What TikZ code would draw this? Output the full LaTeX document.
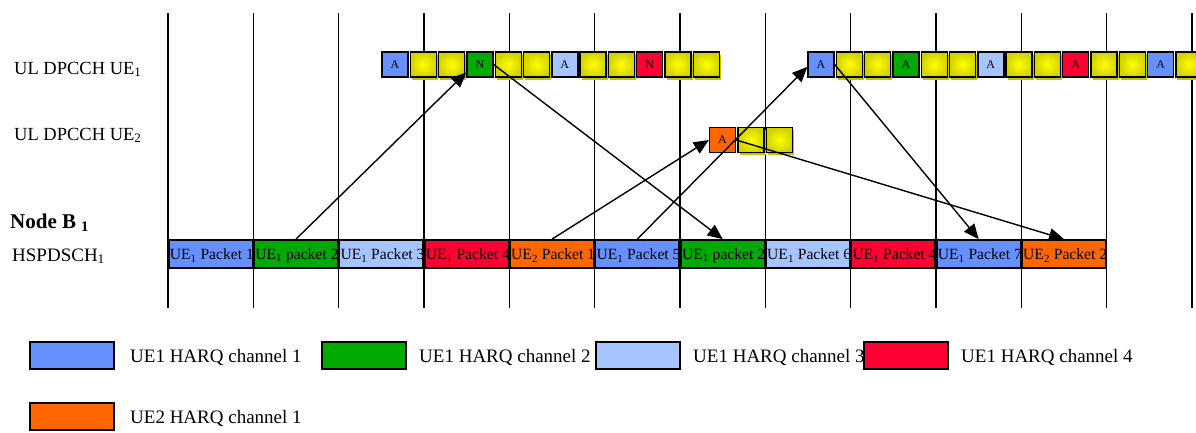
\documentclass[tikz,border=0pt]{standalone}
\usepackage{fontspec}
\setmainfont{Liberation Serif}
\usetikzlibrary{arrows.meta,shadows}
\definecolor{cblue}{HTML}{6690FF}
\definecolor{clblue}{HTML}{A6C4FF}
\definecolor{cgreen}{HTML}{00AA00}
\definecolor{cred}{HTML}{FF0033}
\definecolor{corange}{HTML}{FF6600}
\definecolor{cyel}{HTML}{FFFF00}
\definecolor{cyeledge}{HTML}{D2D200}
\definecolor{cyelshadow}{HTML}{C4C400}
\newcommand\pktfont{\fontsize{15.6}{16}\selectfont}
\newcommand\labfont{\fontsize{18.5}{20}\selectfont}
\newcommand\legfont{\fontsize{19}{21}\selectfont}
\tikzset{
  gridline/.style={line width=1.6pt, black},
  slotbox/.style={draw=black, line width=1.4pt, minimum width=26pt, minimum height=25pt,
    inner sep=0pt, font=\fontsize{12}{12}\selectfont},
  ackbox/.style={slotbox, fill=#1},
  yelbox/.style={slotbox, inner color=cyel, outer color=cyeledge,
    drop shadow={shadow xshift=1.5pt, shadow yshift=-2.5pt, fill=cyelshadow, opacity=1}},
  pkt/.style 2 args={draw=black, line width=1.8pt, fill=#1, minimum width=84pt,
    minimum height=28pt, inner sep=0pt,
    path picture={\node[anchor=west, inner sep=0.3pt, yshift=-1.5pt, font=\pktfont]
      at (path picture bounding box.west) {#2};}},
  sig/.style={line width=1.4pt, -{Triangle[length=15pt,width=13pt]}},
  lab/.style={anchor=base west, inner sep=0pt, font=\labfont},
  leglab/.style={anchor=base west, inner sep=0pt, font=\legfont},
  legbox/.style={draw=black, line width=1.6pt, fill=#1, minimum width=84pt,
    minimum height=27pt, inner sep=0pt},
}
\begin{document}
\begin{tikzpicture}[x=1pt,y=-1pt]
\useasboundingbox (0,0) rectangle (1196,432);
\fill[white] (0,0) rectangle (1196,432);
\clip (0,0) rectangle (1196,432);

% time slot grid
\foreach \i in {0,...,12}
  \draw[gridline] ({168+\i*85.333},13) -- ({168+\i*85.333},308);

% row labels
\node[lab] (l1) at (14,74) {UL DPCCH UE\textsubscript{1}};
\node[lab] (l2) at (14,140) {UL DPCCH UE\textsubscript{2}};
\node[anchor=base west, inner sep=0pt, font=\fontsize{21}{23}\selectfont\bfseries]
  (l3) at (10,228.5) {Node B\hspace{5pt}\textsubscript{1}};
\node[lab, font=\fontsize{19}{21}\selectfont] (l4) at (12,261) {HSPDSCH\textsubscript{1}};

% UL DPCCH UE1, first group
\foreach \k in {2,3,5,6,8,9,11,12}
  \node[yelbox] (u1b\k) at ({395+(\k-1)*28.3},64.5) {};
\node[ackbox=cblue]  (u1b1)  at ({395+0*28.3},64.5) {A};
\node[ackbox=cgreen] (u1b4)  at ({395+3*28.3},64.5) {N};
\node[ackbox=clblue] (u1b7)  at ({395+6*28.3},64.5) {A};
\node[ackbox=cred]   (u1b10) at ({395+9*28.3},64.5) {N};

% UL DPCCH UE1, second group
\foreach \k in {2,3,5,6,8,9,11,12,14}
  \node[yelbox] (v1b\k) at ({821+(\k-1)*28.3},64.5) {};
\node[ackbox=cblue]  (v1b1)  at ({821+0*28.3},64.5) {A};
\node[ackbox=cgreen] (v1b4)  at ({821+3*28.3},64.5) {A};
\node[ackbox=clblue] (v1b7)  at ({821+6*28.3},64.5) {A};
\node[ackbox=cred]   (v1b10) at ({821+9*28.3},64.5) {A};
\node[ackbox=cblue]  (v1b13) at ({821+12*28.3},64.5) {A};

% UL DPCCH UE2
\node[yelbox] (u2b2) at (751,140) {};
\node[yelbox] (u2b3) at (779.3,140) {};
\node[ackbox=corange] (u2b1) at (722.5,140) {A};

% HSPDSCH packets
\node[pkt={cblue}{UE\textsubscript{1} Packet 1}]   (p0)  at ({210.67+0*85.333},254) {};
\node[pkt={cgreen}{UE\textsubscript{1} packet 2}]  (p1)  at ({210.67+1*85.333},254) {};
\node[pkt={clblue}{UE\textsubscript{1} Packet 3}]  (p2)  at ({210.67+2*85.333},254) {};
\node[pkt={cred}{UE\textsubscript{1} Packet 4}]    (p3)  at ({210.67+3*85.333},254) {};
\node[pkt={corange}{UE\textsubscript{2} Packet 1}] (p4)  at ({210.67+4*85.333},254) {};
\node[pkt={cblue}{UE\textsubscript{1} Packet 5}]   (p5)  at ({210.67+5*85.333},254) {};
\node[pkt={cgreen}{UE\textsubscript{1} packet 2}]  (p6)  at ({210.67+6*85.333},254) {};
\node[pkt={clblue}{UE\textsubscript{1} Packet 6}]  (p7)  at ({210.67+7*85.333},254) {};
\node[pkt={cred}{UE\textsubscript{1} Packet 4}]    (p8)  at ({210.67+8*85.333},254) {};
\node[pkt={cblue}{UE\textsubscript{1} Packet 7}]   (p9)  at ({210.67+9*85.333},254) {};
\node[pkt={corange}{UE\textsubscript{2} Packet 2}] (p10) at ({210.67+10*85.333},254) {};

% signalling arrows
\draw[sig] (p1.north) -- (u1b4.210);
\draw[sig] (u1b4.east) -- (p6.north);
\draw[sig] (p4.north) -- (u2b1.west);
\draw[sig] (p5.north) -- (v1b1.190);
\draw[sig] (v1b1.east) -- (p9.north);
\draw[sig] (u2b1.east) -- (p10.north);

% legend
\node[legbox=cblue]   (g1) at (72,355.5) {};
\node[leglab] (t1) at (130,362.5) {UE1 HARQ channel 1};
\node[legbox=cgreen]  (g2) at (364,355.5) {};
\node[leglab] (t2) at (419,362.5) {UE1 HARQ channel 2};
\node[legbox=clblue]  (g3) at (638,355.5) {};
\node[leglab] (t3) at (693,362.5) {UE1 HARQ channel 3};
\node[legbox=cred]    (g4) at (906,355.5) {};
\node[leglab] (t4) at (961,362.5) {UE1 HARQ channel 4};
\node[legbox=corange] (g5) at (72,416.5) {};
\node[leglab] (t5) at (130,423.5) {UE2 HARQ channel 1};
\end{tikzpicture}
\end{document}
